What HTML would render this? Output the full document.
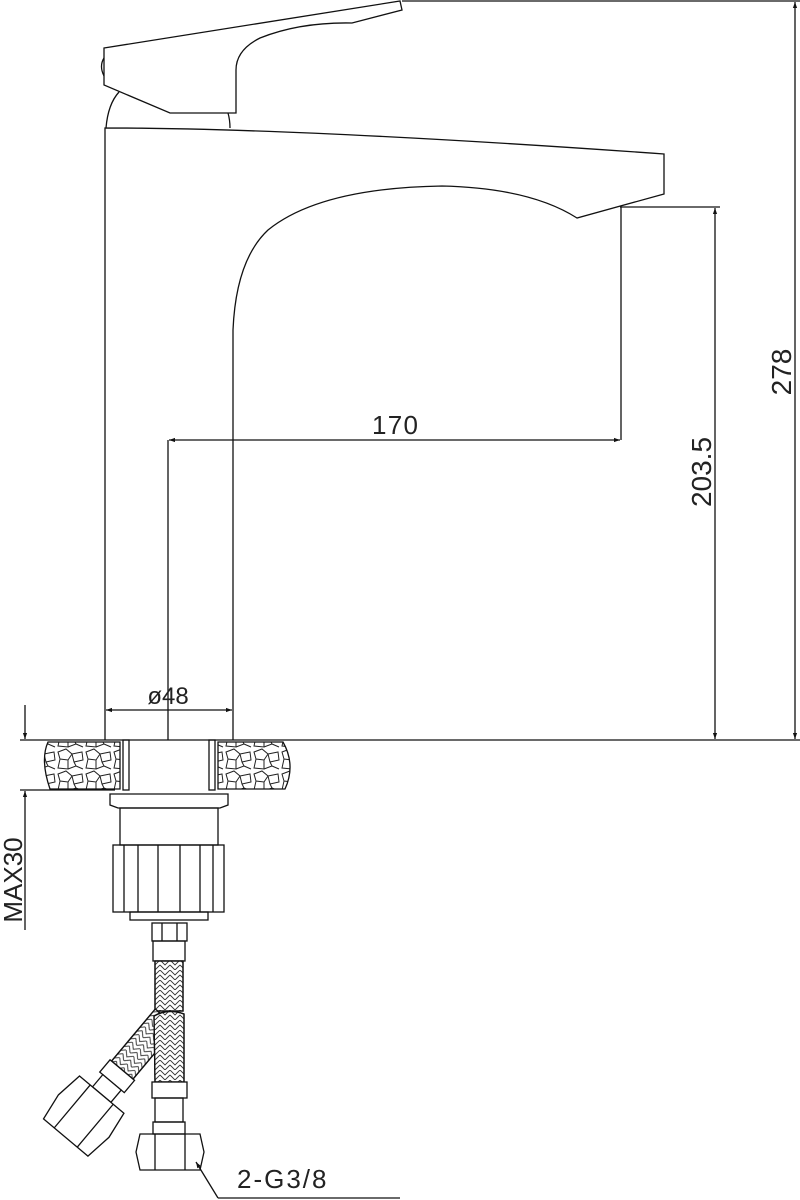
<!DOCTYPE html>
<html><head><meta charset="utf-8"><style>
html,body{margin:0;padding:0;background:#fff;width:800px;height:1200px;overflow:hidden}
svg{display:block}
text{font-family:"Liberation Sans",sans-serif;fill:#222;font-weight:normal}
</style></head><body>
<svg width="800" height="1200" viewBox="0 0 800 1200" xmlns="http://www.w3.org/2000/svg">
<defs>
<marker id="a" viewBox="0 0 10 10" refX="10" refY="5" markerWidth="12" markerHeight="6" markerUnits="userSpaceOnUse" orient="auto-start-reverse"><path d="M0,1.5 L10,5 L0,8.5z" fill="#111"/></marker>
<pattern id="braid" width="10" height="10" patternUnits="userSpaceOnUse"><path d="M0,0 L5,5 L10,0 M0,5 L5,10 L10,5" fill="none" stroke="#333" stroke-width="0.9"/></pattern>
<pattern id="stone" width="28" height="22" patternUnits="userSpaceOnUse"><path d="M2,4 L10,1 L16,6 L12,12 L4,11z M16,6 L26,4 L27,12 L18,14z M4,11 L2,20 L12,21 L12,12 M12,21 L20,18 L18,14 M20,18 L27,21" fill="none" stroke="#222" stroke-width="1"/></pattern>
</defs>
<g fill="none" stroke="#111" stroke-width="1.3">
<path d="M104,48 L400,1 L402,10 L352,23 Q300,22 260,38 Q236,50 236,70 L236,113 L170,113 L104,85 Z"/>
<path d="M104,58 Q99,66 104,76"/>
<path d="M106,128 Q108,104 119,92"/>
<path d="M228,113 Q230,120 230,128"/>
<path d="M105,740 L105,128 Q300,128 664,154 L664,194 L577,218 Q530,188 442,186 Q320,188 268,230 Q236,260 233,330 L233,740"/>
<line x1="402" y1="1" x2="800" y2="1"/>
<line x1="620" y1="207" x2="720" y2="207"/>
<line x1="621" y1="207" x2="621" y2="440"/>
<line x1="20" y1="740" x2="800" y2="740"/>
<line x1="20" y1="790" x2="115" y2="790"/>
<line x1="168" y1="440" x2="168" y2="740"/>
<line x1="795" y1="2" x2="795" y2="739" marker-start="url(#a)" marker-end="url(#a)"/>
<line x1="715" y1="208" x2="715" y2="739" marker-start="url(#a)" marker-end="url(#a)"/>
<line x1="169" y1="440" x2="620" y2="440" marker-start="url(#a)" marker-end="url(#a)"/>
<line x1="106" y1="710" x2="232" y2="710" marker-start="url(#a)" marker-end="url(#a)"/>
<line x1="25" y1="705" x2="25" y2="739" marker-end="url(#a)"/>
<line x1="25" y1="930" x2="25" y2="791" marker-end="url(#a)"/>
<path d="M48,742 Q40,760 50,789 L120,789 L120,742 Z" fill="url(#stone)"/>
<path d="M218,742 L283,742 Q296,765 285,789 L218,789 Z" fill="url(#stone)"/>
<rect x="123" y="740" width="6" height="50"/>
<rect x="209" y="740" width="6" height="50"/>
<path d="M110,794 L228,794 L228,805 L220,808 L118,808 L110,805 Z"/>
<rect x="120" y="808" width="98" height="37"/>
<rect x="113" y="845" width="111" height="67"/>
<path d="M124,845V912 M138,845V912 M158,845V912 M180,845V912 M200,845V912 M213,845V912"/>
<rect x="130" y="912" width="78" height="8"/>
<rect x="152" y="923" width="35" height="18"/>
<path d="M162,923V941 M177,923V941"/>
<rect x="153" y="941" width="32" height="20"/>
<rect x="155" y="961" width="28" height="50" fill="#fff"/>
<rect x="155" y="961" width="28" height="50" fill="url(#braid)"/>
<g transform="translate(166,1018) rotate(40)">
<rect x="-14" y="0" width="28" height="68" fill="#fff"/>
<rect x="-14" y="0" width="28" height="68" fill="url(#braid)"/>
<rect x="-16" y="68" width="32" height="16" fill="#fff"/>
<rect x="-12" y="84" width="24" height="16" fill="#fff"/>
<path d="M-29,100 L29,100 L33,128 L29,156 L-29,156 L-33,128 Z" fill="#fff"/>
<path d="M-15,100V156 M15,100V156"/>
</g>
<path d="M154,1016 Q168,1008 184,1014 L184,1082 L155,1082 Z" fill="#fff"/>
<path d="M154,1016 Q168,1008 184,1014 L184,1082 L155,1082 Z" fill="url(#braid)"/>
<rect x="152" y="1082" width="35" height="16" fill="#fff"/>
<rect x="155" y="1098" width="28" height="24"/>
<rect x="153" y="1122" width="32" height="12"/>
<path d="M140,1134 L200,1134 L204,1152 L200,1170 L140,1170 L136,1152 Z"/>
<path d="M155,1134V1170 M185,1134V1170"/>
<line x1="218" y1="1198" x2="400" y2="1198"/>
<line x1="218" y1="1198" x2="196" y2="1162" marker-end="url(#a)"/>
</g>
<text x="395" y="434" font-size="26" text-anchor="middle" textLength="46">170</text>
<text x="168" y="704" font-size="24" text-anchor="middle">ø48</text>
<text transform="translate(791,372) rotate(-90)" font-size="28" text-anchor="middle">278</text>
<text transform="translate(711,472) rotate(-90)" font-size="28" text-anchor="middle">203.5</text>
<text transform="translate(22,880) rotate(-90)" font-size="26" text-anchor="middle">MAX30</text>
<text x="237" y="1188" font-size="26" letter-spacing="2">2-G3/8</text>
</svg>
</body></html>
